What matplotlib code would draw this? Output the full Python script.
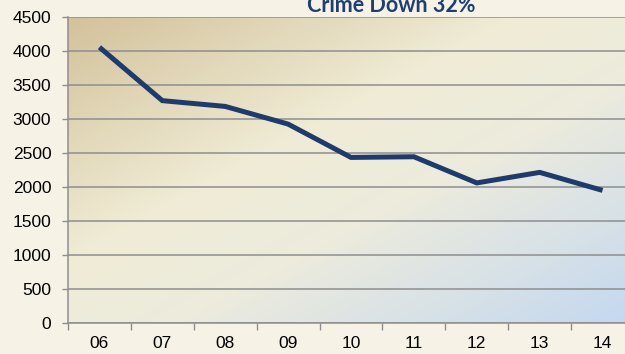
import matplotlib
matplotlib.use("Agg")
import matplotlib.pyplot as plt
import numpy as np
from matplotlib.colors import LinearSegmentedColormap

YEARS = ["06", "07", "08", "09", "10", "11", "12", "13", "14"]
CRIMES = [4055, 3270, 3185, 2925, 2435, 2445, 2060, 2215, 1950]
Y_TICKS = [0, 500, 1000, 1500, 2000, 2500, 3000, 3500, 4000, 4500]
TITLE = "Crime Down 32%"

FIG_BG = "#F6F2E6"
LINE_COLOR = "#1F3B6C"
GRID_COLOR = "#8E8E8E"
TITLE_COLOR = "#1F3F73"

plt.rcParams["font.family"] = ["Liberation Sans", "DejaVu Sans"]

fig = plt.figure(figsize=(6.25, 3.54), dpi=100, facecolor=FIG_BG)
ax = fig.add_axes([68 / 625, 31 / 354, 566 / 625, 306 / 354])

# diagonal background gradient: tan top-left -> cream -> light blue bottom-right
cmap = LinearSegmentedColormap.from_list(
    "bg", [(0.0, "#D3C29B"), (0.4, "#F0ECD6"), (0.6, "#ECEBDD"), (1.0, "#C4D8F0")]
)
gx, gy = np.meshgrid(np.linspace(0, 1, 200), np.linspace(1, 0, 200))
grad = (gx + (1 - gy)) / 2
ax.imshow(grad, cmap=cmap, extent=[0, 1, 0, 1], transform=ax.transAxes,
          aspect="auto", zorder=0, interpolation="bilinear")

x = np.arange(len(YEARS))
ax.plot(x, CRIMES, color=LINE_COLOR, linewidth=3.6, solid_joinstyle="miter",
        solid_capstyle="butt", zorder=3)

ax.set_xlim(-0.5, len(YEARS) - 0.5)
ax.set_ylim(0, 4500)
ax.set_yticks(Y_TICKS)
ax.set_yticklabels([str(v) for v in Y_TICKS], fontsize=12.5)
ax.set_xticks(x)
ax.set_xticklabels(YEARS, fontsize=12.5)
ax.set_xticks(np.arange(len(YEARS) + 1) - 0.5, minor=True)
ax.tick_params(axis="x", which="major", length=0, pad=9)
ax.tick_params(axis="x", which="minor", length=5, width=1.0, color=GRID_COLOR)
ax.tick_params(axis="y", length=4, width=1.0, color=GRID_COLOR, pad=8)

ax.grid(axis="y", color=GRID_COLOR, linewidth=1.1, zorder=1)
ax.set_axisbelow(True)
for side in ["top", "right"]:
    ax.spines[side].set_visible(False)
for side in ["left", "bottom"]:
    ax.spines[side].set_color(GRID_COLOR)
    ax.spines[side].set_linewidth(1.1)

fig.text(391 / 625, 1 - 12.5 / 354, TITLE, ha="center", va="baseline",
         fontsize=15.5, fontweight="bold", color=TITLE_COLOR, family=["Lato", "DejaVu Sans"])

fig.savefig("out.png", dpi=100, facecolor=FIG_BG)
